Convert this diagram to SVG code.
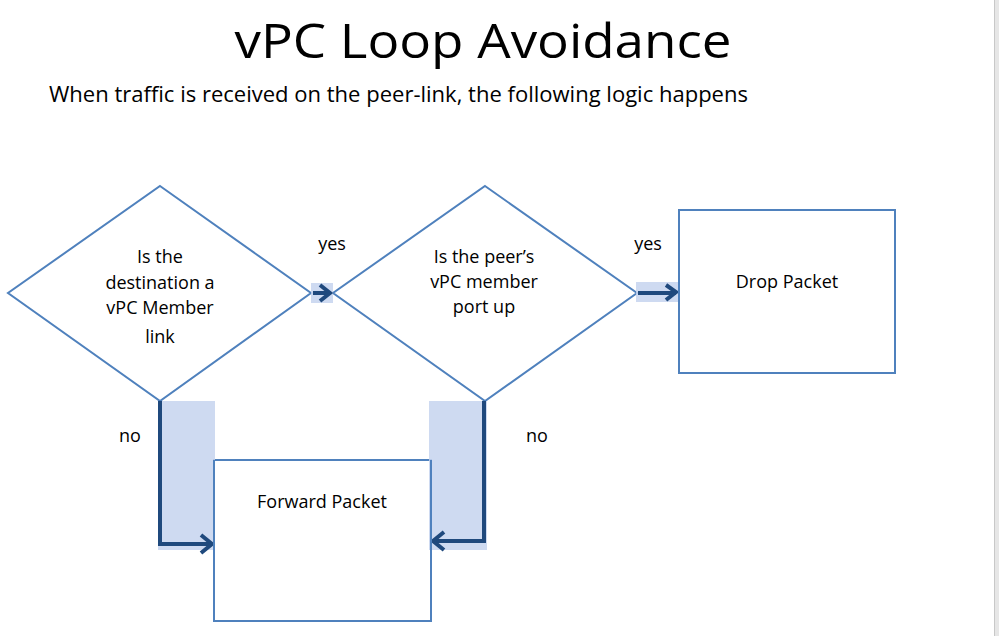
<svg xmlns="http://www.w3.org/2000/svg" width="999" height="636" viewBox="0 0 999 636">
<defs>
<style>
.shape{fill:#fff;stroke:#4f81bd;stroke-width:2}
.t{font-family:"Open Sans","Liberation Sans",sans-serif;font-size:18px;fill:#000;text-anchor:middle}
.hl{fill:#c5d3ee;opacity:0.85}
.arr{fill:none;stroke:#1f497d;stroke-width:4;stroke-linejoin:miter}
</style>
<marker id="ah" viewBox="0 0 10 10" refX="8" refY="5" markerWidth="5" markerHeight="5" orient="auto" markerUnits="userSpaceOnUse">
<path d="M1,1 L8,5 L1,9" fill="none" stroke="#1f497d" stroke-width="2"/>
</marker>
</defs>
<rect width="999" height="636" fill="#fff"/>
<rect x="994" y="0" width="5" height="636" fill="#e6e6e6"/>
<line x1="994.5" y1="0" x2="994.5" y2="636" stroke="#c8c8c8" stroke-width="1"/>
<text x="483" y="58" font-family="Open Sans,Liberation Sans,sans-serif" font-size="48" text-anchor="middle" textLength="497" lengthAdjust="spacingAndGlyphs">vPC Loop Avoidance</text>
<text x="49" y="102" font-family="Open Sans,Liberation Sans,sans-serif" font-size="21" textLength="699" lengthAdjust="spacingAndGlyphs">When traffic is received on the peer-link, the following logic happens</text>

<g id="d1">
<polygon class="shape" points="160,186 311,293 160,401 8,293"/>
<text class="t" x="160" y="263">Is the</text>
<text class="t" x="160" y="289">destination a</text>
<text class="t" x="160" y="314">vPC Member</text>
<text class="t" x="160" y="343">link</text>
</g>
<g id="d2">
<polygon class="shape" points="485,186 637,293 485,401 333,293"/>
<text class="t" x="484" y="263">Is the peer’s</text>
<text class="t" x="484" y="288">vPC member</text>
<text class="t" x="484" y="313">port up</text>
</g>
<g id="drop">
<rect class="shape" x="679" y="210" width="216" height="163"/>
<text class="t" x="787" y="288">Drop Packet</text>
</g>
<g id="fwd">
<rect class="shape" x="214" y="460" width="217" height="161"/>
<text class="t" x="322" y="508">Forward Packet</text>
</g>

<g id="connectors">
<rect class="hl" x="311" y="283" width="22" height="20"/>
<rect class="hl" x="636" y="282" width="43" height="20"/>
<rect class="hl" x="158" y="401" width="57" height="149"/>
<rect class="hl" x="429" y="401" width="58" height="149"/>
<path d="M160,401 V544 H212" stroke="#1f497d" stroke-width="4" fill="none"/>
<path d="M201,535 L212,544 L201,553" stroke="#1f497d" stroke-width="4" fill="none"/>
<path d="M484,401 V541 H433" stroke="#1f497d" stroke-width="4" fill="none"/>
<path d="M444,532 L433,541 L444,550" stroke="#1f497d" stroke-width="4" fill="none"/>
<path d="M313,293 H330" stroke="#1f497d" stroke-width="4" fill="none"/>
<path d="M320,285 L330,293 L320,301" stroke="#1f497d" stroke-width="4" fill="none"/>
<path d="M638,293 H676" stroke="#1f497d" stroke-width="4" fill="none"/>
<path d="M666,285 L676,292 L666,300" stroke="#1f497d" stroke-width="4" fill="none"/>
<line x1="214" y1="460" x2="214" y2="621" stroke="#4f81bd" stroke-width="2"/>
<line x1="431" y1="460" x2="431" y2="621" stroke="#4f81bd" stroke-width="2"/>
<line x1="679" y1="210" x2="679" y2="373" stroke="#4f81bd" stroke-width="2"/>
<text class="t" x="332" y="250">yes</text>
<text class="t" x="648" y="250">yes</text>
<text class="t" x="130" y="442">no</text>
<text class="t" x="537" y="442">no</text>
</g>
</svg>
